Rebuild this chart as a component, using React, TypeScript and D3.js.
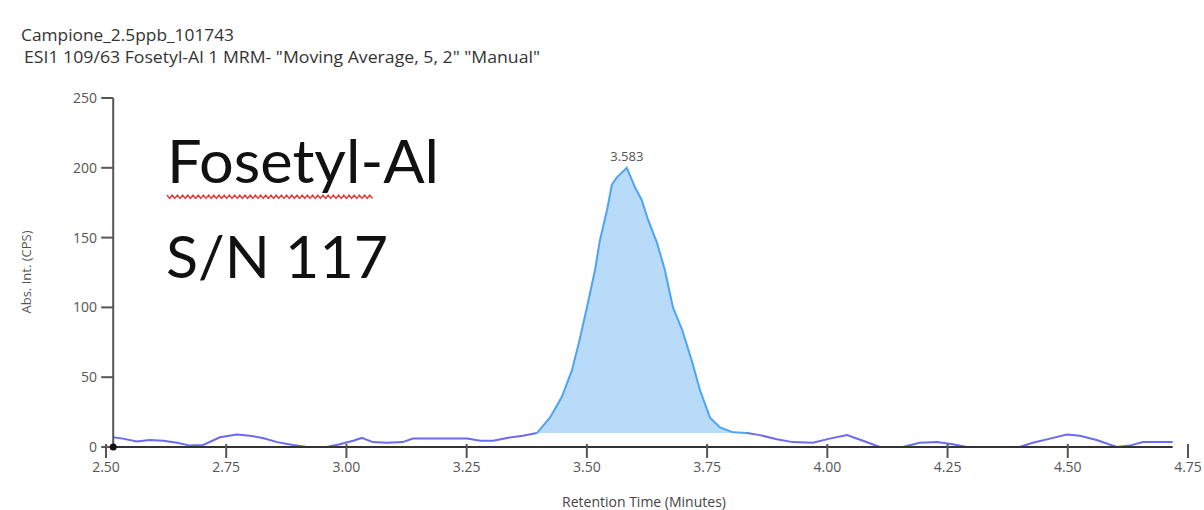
import React from 'react';
import * as d3 from 'd3';

// chromatogram (minutes, counts)
const times = [
  2.515, 2.535, 2.564, 2.591, 2.619, 2.648, 2.675, 2.702, 2.737, 2.772,
  2.799, 2.826, 2.856, 2.889, 2.918, 2.959, 2.986, 3.014, 3.032, 3.055,
  3.084, 3.117, 3.138, 3.180, 3.251, 3.278, 3.305, 3.334, 3.367, 3.396,
  3.423, 3.448, 3.469, 3.485, 3.502, 3.517, 3.527, 3.542, 3.552, 3.562,
  3.583, 3.600, 3.614, 3.627, 3.646, 3.662, 3.679, 3.698, 3.718, 3.735,
  3.756, 3.777, 3.804, 3.833, 3.860, 3.895, 3.928, 3.970, 4.005, 4.041,
  4.074, 4.109, 4.157, 4.192, 4.228, 4.261, 4.290, 4.400, 4.427, 4.463,
  4.498, 4.525, 4.560, 4.602, 4.629, 4.656, 4.691, 4.718,
];
const counts = [
  7, 6, 4, 5, 4.5, 3, 1, 1.5, 7, 9,
  8, 6.5, 3.5, 1.5, 0, 0, 2, 4.5, 6.5, 3.5,
  3, 3.5, 6, 6, 6, 4.5, 4.5, 6.5, 8, 10,
  21, 36, 55, 77, 103, 127, 148, 170, 188, 193,
  200, 186, 177, 163, 146, 127, 100, 84, 62, 41,
  21, 14, 10.5, 10, 8.5, 5.5, 3.5, 3, 6, 8.5,
  4.5, 0, 0, 3, 3.5, 2, 0, 0, 3, 6,
  9, 8, 5, 0, 1, 3.5, 3.5, 3.5,
];
const peakStart = 3.396;
const peakEnd = 3.833;
const peakLabel = '3.583';

const xTicks = [2.5, 2.75, 3.0, 3.25, 3.5, 3.75, 4.0, 4.25, 4.5, 4.75];
const yTicks = [0, 50, 100, 150, 200, 250];

const titleLines = [
  'Campione_2.5ppb_101743',
  'ESI1 109/63 Fosetyl-Al 1 MRM- "Moving Average, 5, 2" "Manual"',
];
const notes = ['Fosetyl-Al', 'S/N 117'];

export default function App() {
  const W = 1204, H = 510;
  const x = d3.scaleLinear().domain([2.5, 4.75]).range([106, 1188]);
  const y = d3.scaleLinear().domain([0, 250]).range([447, 98]);

  const pts = times.map((t, i) => ({ t, v: counts[i] }));
  const iStart = times.indexOf(peakStart);
  const iEnd = times.indexOf(peakEnd);
  const before = pts.slice(0, iStart + 1);
  const peak = pts.slice(iStart, iEnd + 1);
  const after = pts.slice(iEnd);

  const line = d3.line<{ t: number; v: number }>()
    .x(d => x(d.t))
    .y(d => y(d.v));
  const base = y(counts[iStart]);
  const area = d3.area<{ t: number; v: number }>()
    .x(d => x(d.t))
    .y0(base)
    .y1(d => y(d.v));

  const axisX0 = x(times[0]);
  const axisX1 = x(times[times.length - 1]);
  const y0 = y(0);
  const fmt = d3.format('.2f');

  // red spell-check squiggle under "Fosetyl"
  let wave = 'M167,195';
  for (let px = 167, k = 0; px < 372; px += 2.6, k++) {
    wave += ` L${px + 2.6},${k % 2 === 0 ? 198.5 : 195}`;
  }

  const font = '"Open Sans", sans-serif';

  return (
    <svg width={W} height={H} style={{ position: 'absolute', left: 0, top: 0, background: '#fff' }}>
      <text x={21} y={41} fontFamily={font} fontSize={15.5} fill="#333" textLength={213} lengthAdjust="spacingAndGlyphs">{titleLines[0]}</text>
      <text x={24} y={63} fontFamily={font} fontSize={15.5} fill="#333" textLength={516} lengthAdjust="spacingAndGlyphs">{titleLines[1]}</text>

      {/* peak fill + lines */}
      <path d={area(peak) || ''} fill="#b9dbfa" />
      <path d={line(before) || ''} fill="none" stroke="#6a6af2" strokeWidth={2} />
      <path d={line(after) || ''} fill="none" stroke="#6a6af2" strokeWidth={2} />
      <path d={line(peak) || ''} fill="none" stroke="#4fa3f5" strokeWidth={2} />
      <text x={x(3.583)} y={161} textAnchor="middle" fontFamily={font} fontSize={13} fill="#555">{peakLabel}</text>

      {/* y axis */}
      <line x1={axisX0} x2={axisX0} y1={y(250)} y2={y0} stroke="#555" strokeWidth={2} />
      {yTicks.map(v => (
        <g key={v}>
          <line x1={axisX0 - 12} x2={axisX0} y1={y(v)} y2={y(v)} stroke="#555" strokeWidth={2} />
          <text x={97} y={y(v)} dy="0.35em" textAnchor="end" fontFamily={font} fontSize={14} fill="#555">{v}</text>
        </g>
      ))}
      <text transform={`translate(31,${272}) rotate(-90)`} textAnchor="middle" fontFamily={font} fontSize={13} fill="#555">Abs. Int. (CPS)</text>

      {/* x axis */}
      <line x1={axisX0} x2={axisX1} y1={y0} y2={y0} stroke="#333" strokeWidth={2} />
      {xTicks.map(t => (
        <g key={t}>
          <line x1={x(t)} x2={x(t)} y1={y0 - 3} y2={y0 + 11} stroke="#555" strokeWidth={2} />
          <text x={x(t)} y={472} textAnchor="middle" fontFamily={font} fontSize={14} fill="#555">{fmt(t)}</text>
        </g>
      ))}
      <circle cx={axisX0} cy={y0} r={3.5} fill="#111" />
      <text x={644} y={507} textAnchor="middle" fontFamily={font} fontSize={14} fill="#444">Retention Time (Minutes)</text>

      {/* annotations */}
      <text x={167} y={183} fontFamily={'Lato, sans-serif'} fontSize={60} fill="#111" textLength={272} lengthAdjust="spacingAndGlyphs">{notes[0]}</text>
      <path d={wave} fill="none" stroke="#e33" strokeWidth={1.3} />
      <text x={166} y={278} fontFamily={'Lato, sans-serif'} fontSize={58} fill="#111" textLength={222} lengthAdjust="spacingAndGlyphs">{notes[1]}</text>
    </svg>
  );
}
